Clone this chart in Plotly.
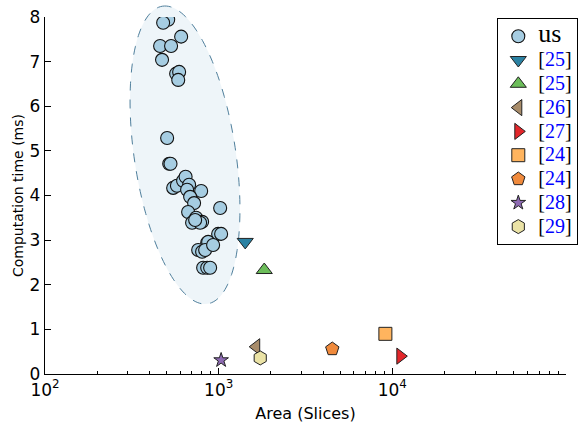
import numpy as np
import plotly.graph_objects as go

# ---- data ----
us_area = [512, 479, 608, 460, 532, 472, 569, 592, 585, 505, 519, 528,
           547, 575, 624, 645, 676, 793, 658, 685, 722, 667, 741, 713, 803,
           1020, 993, 1033, 859, 870, 762, 803, 836, 929, 814, 859, 893,
           703, 782, 732]
us_time = [7.94, 7.87, 7.56, 7.35, 7.35, 7.04, 6.73, 6.77, 6.59, 5.29, 4.71, 4.71,
           4.17, 4.22, 4.33, 4.42, 4.24, 4.10, 4.13, 3.97, 3.83, 3.63, 3.50, 3.41, 3.41,
           3.72, 3.14, 3.14, 2.94, 2.96, 2.78, 2.74, 2.78, 2.89, 2.38, 2.38, 2.38,
           3.39, 3.39, 3.45]

other_labels = ["25", "25", "26", "27", "24", "24", "28", "29"]
other_area = [1422, 1830, 1645, 11120, 9120, 4510, 1033, 1735]
other_time = [2.96, 2.33, 0.61, 0.40, 0.90, 0.56, 0.31, 0.36]

# ---- styles ----
other_symbols = ["triangle-down", "triangle-up", "triangle-left", "triangle-right",
                 "square", "pentagon", "star", "hexagon"]
other_colors = ["#2b82a3", "#6cbd5a", "#a88c6a", "#e3262a",
                "#ffb45e", "#f08a3c", "#8e6bb3", "#ebe3a6"]
other_sizes = [14, 14, 14, 14, 13, 14, 11, 14]

W, H = 579, 431
ML, MR, MT, MB = 45, 13, 17, 57
XR = [2, 5]
YR = [0, 8]
pw, ph = W - ML - MR, H - MT - MB

# ellipse outline (screen-space ellipse, expressed in paper coordinates)
ecx, ecy = 185 - ML, 155 - MT
ea, eb, ephi = 150.5, 50.7, np.deg2rad(8.6)
t = np.linspace(0, 2 * np.pi, 160, endpoint=False)
mx, my = -np.sin(ephi), -np.cos(ephi)
nx, ny = np.cos(ephi), -np.sin(ephi)
ex_px = ecx + ea * np.cos(t) * mx + eb * np.sin(t) * nx
ey_px = ecy + ea * np.cos(t) * my + eb * np.sin(t) * ny
px_ = ex_px / pw
py_ = 1 - ey_px / ph
path = "M " + " L ".join("%.5f,%.5f" % (a, b) for a, b in zip(px_, py_)) + " Z"

fig = go.Figure()
fig.add_shape(type="path", path=path, xref="paper", yref="paper", layer="below",
              fillcolor="#eef5f9", line=dict(color="#4f7f9c", width=1, dash="dash"))
fig.add_trace(go.Scatter(x=us_area, y=us_time, mode="markers",
                         name="<span style='font-size:26px'>us</span>",
                         marker=dict(symbol="circle", size=13, color="#a6cde2",
                                     line=dict(color="#111111", width=1.1))))
for lab, xa, yt, sym, col, sz in zip(other_labels, other_area, other_time,
                                     other_symbols, other_colors, other_sizes):
    fig.add_trace(go.Scatter(x=[xa], y=[yt], mode="markers",
                             name="<span style='font-size:20px'>[<span style='color:#0000ff'>%s</span>]</span>" % lab,
                             marker=dict(symbol=sym, size=sz, color=col,
                                         line=dict(color="#222222", width=1))))

minor_vals = [m * 10 ** d for d in range(2, 5) for m in range(2, 10)]
fig.update_layout(
    width=W, height=H,
    margin=dict(l=ML, r=MR, t=MT, b=MB, autoexpand=False),
    paper_bgcolor="white", plot_bgcolor="rgba(0,0,0,0)",
    font=dict(family="DejaVu Sans", color="black"),
    showlegend=True,
    legend=dict(x=(578 - ML) / pw, xanchor="right", y=(374 - 18) / ph, yanchor="top",
                bgcolor="white", bordercolor="black", borderwidth=1.3,
                font=dict(family="Liberation Serif", size=16, color="black"),
                itemsizing="trace", tracegroupgap=0),
    xaxis=dict(type="log", range=XR, showgrid=False, zeroline=False,
               showline=True, linecolor="black", linewidth=1.3, mirror=False,
               ticks="inside", ticklen=6, tickwidth=1, tickcolor="black",
               tickvals=[1e2, 1e3, 1e4, 1e5],
               ticktext=["10<sup>2</sup>", "10<sup>3</sup>", "10<sup>4</sup>", "10<sup>5</sup>"],
               tickfont=dict(size=17),
               minor=dict(ticks="inside", ticklen=3, tickwidth=1, tickcolor="black",
                          tickvals=minor_vals, showgrid=False),
               title=dict(text="Area (Slices)", font=dict(size=16), standoff=9)),
    yaxis=dict(range=YR, showgrid=False, zeroline=False,
               showline=True, linecolor="black", linewidth=1.3, mirror=False,
               ticks="inside", ticklen=6, tickwidth=1, tickcolor="black",
               tickvals=[0, 1, 2, 3, 4, 5, 6, 7, 8], tickfont=dict(size=17),
               title=dict(text="Computation time (ms)", font=dict(size=14), standoff=2)),
)
fig.write_html("out.html", config={"displayModeBar": False},
               post_script="document.body.style.margin='0px';")
